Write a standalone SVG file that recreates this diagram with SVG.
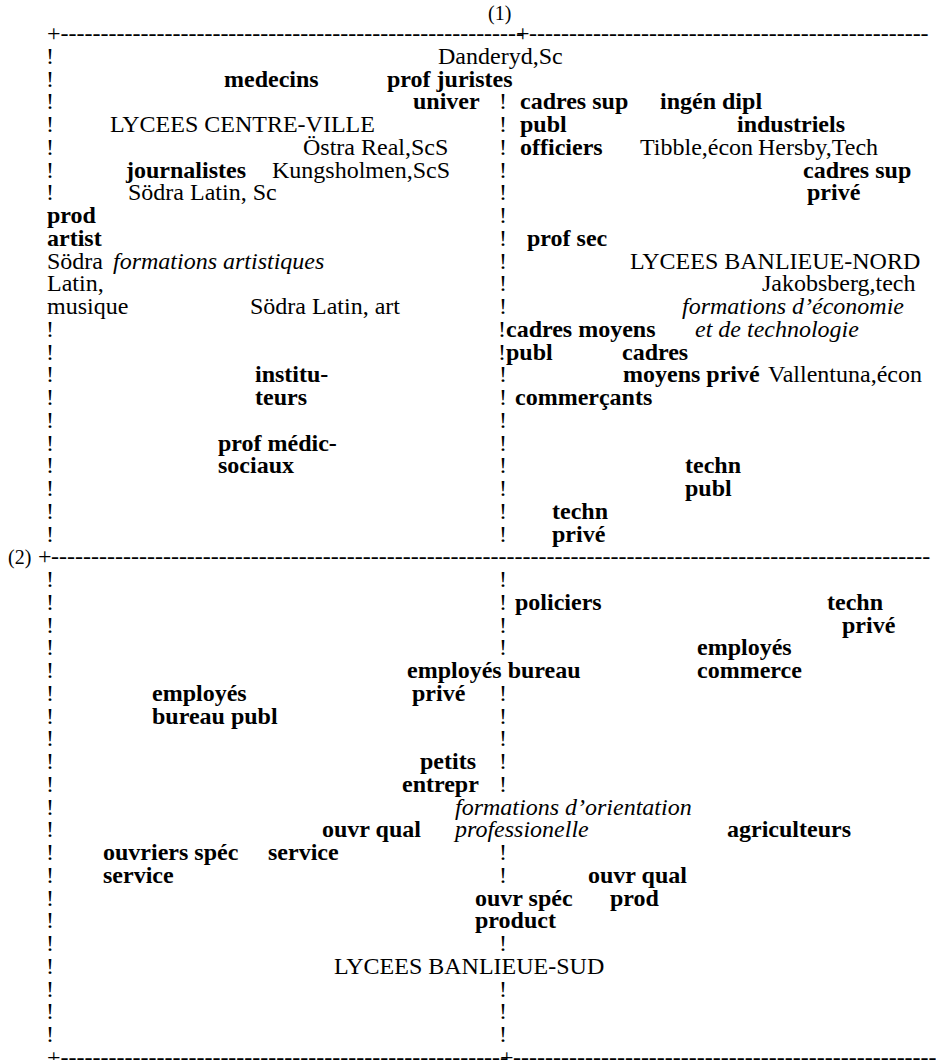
<svg xmlns="http://www.w3.org/2000/svg" width="936" height="1060" viewBox="0 0 936 1060" xml:space="preserve">
<style>
text{font-family:"Liberation Serif","Times New Roman",serif;font-size:24px;fill:#000}
.b{font-weight:bold}
.i{font-style:italic}
.s{font-size:20px}
</style>
<rect width="936" height="1060" fill="#fff"/>
<g id="frame">
<text class="s" x="488" y="20">(1)</text>
<text x="47" y="41">+----------------------------------------------------------<tspan x="516">+</tspan><tspan x="529">--------------------------------------------------</tspan></text>
<text x="8" y="564.25"><tspan class="s">(2)</tspan><tspan x="38">+</tspan><tspan x="51">--------------------------------------------------------------------------------------------------------------</tspan></text>
<text x="47" y="1064.75">+--------------------------------------------------------<tspan x="500">+</tspan><tspan x="513">-----------------------------------------------------</tspan></text>
</g>
<g id="axis-left">
<text x="46" y="63.75">!</text><text x="46" y="86.5">!</text><text x="46" y="109.25">!</text><text x="46" y="132">!</text><text x="46" y="154.75">!</text><text x="46" y="177.5">!</text><text x="46" y="200.25">!</text>
<text x="46" y="336.75">!</text><text x="46" y="359.5">!</text><text x="46" y="382.25">!</text><text x="46" y="405">!</text><text x="46" y="427.75">!</text><text x="46" y="450.5">!</text><text x="46" y="473.25">!</text><text x="46" y="496">!</text><text x="46" y="518.75">!</text><text x="46" y="541.5">!</text>
<text x="46" y="587">!</text><text x="46" y="609.75">!</text><text x="46" y="632.5">!</text><text x="46" y="655.25">!</text><text x="46" y="678">!</text><text x="46" y="700.75">!</text><text x="46" y="723.5">!</text><text x="46" y="746.25">!</text><text x="46" y="769">!</text><text x="46" y="791.75">!</text><text x="46" y="814.5">!</text><text x="46" y="837.25">!</text><text x="46" y="860">!</text><text x="46" y="882.75">!</text><text x="46" y="905.5">!</text><text x="46" y="928.25">!</text><text x="46" y="951">!</text><text x="46" y="973.75">!</text><text x="46" y="996.5">!</text><text x="46" y="1019.25">!</text><text x="46" y="1042">!</text>
</g>
<g id="axis-middle">
<text x="499" y="109.25">!</text><text x="499" y="132">!</text><text x="499" y="154.75">!</text><text x="499" y="177.5">!</text><text x="499" y="200.25">!</text><text x="499" y="223">!</text><text x="499" y="245.75">!</text><text x="499" y="268.5">!</text><text x="499" y="291.25">!</text><text x="499" y="314">!</text><text x="498" y="336.75">!</text><text x="498" y="359.5">!</text><text x="499" y="382.25">!</text><text x="499" y="405">!</text><text x="499" y="427.75">!</text><text x="499" y="450.5">!</text><text x="499" y="473.25">!</text><text x="499" y="496">!</text><text x="499" y="518.75">!</text><text x="499" y="541.5">!</text>
<text x="499" y="587">!</text><text x="499" y="609.75">!</text><text x="499" y="632.5">!</text><text x="499" y="655.25">!</text><text x="499" y="700.75">!</text><text x="499" y="723.5">!</text><text x="499" y="746.25">!</text><text x="499" y="769">!</text><text x="499" y="791.75">!</text><text x="499" y="860">!</text><text x="499" y="882.75">!</text><text x="499" y="951">!</text><text x="499" y="996.5">!</text><text x="499" y="1019.25">!</text><text x="499" y="1042">!</text>
</g>
<g id="quadrant-top-left">
<text x="438" y="63.75">Danderyd,Sc</text>
<text class="b" x="224" y="86.5">medecins</text>
<text class="b" x="387" y="86.5">prof  juristes</text>
<text class="b" x="413" y="109.25">univer</text>
<text x="110" y="132">LYCEES CENTRE-VILLE</text>
<text x="303" y="154.75">Östra Real,ScS</text>
<text class="b" x="126" y="177.5">journalistes</text>
<text x="272" y="177.5">Kungsholmen,ScS</text>
<text x="128" y="200.25">Södra Latin, Sc</text>
<text class="b" x="47" y="223">prod</text>
<text class="b" x="47" y="245.75">artist</text>
<text x="47" y="268.5">Södra</text>
<text class="i" x="113" y="268.5">formations artistiques</text>
<text x="47" y="291.25">Latin,</text>
<text x="47" y="314">musique</text>
<text x="250" y="314">Södra Latin, art</text>
<text class="b" x="255" y="382.25">institu-</text>
<text class="b" x="255" y="405">teurs</text>
<text class="b" x="218" y="450.5">prof médic-</text>
<text class="b" x="218" y="473.25">sociaux</text>
</g>
<g id="quadrant-top-right">
<text class="b" x="520" y="109.25">cadres sup</text>
<text class="b" x="660" y="109.25">ingén dipl</text>
<text class="b" x="520" y="132">publ</text>
<text class="b" x="737" y="132">industriels</text>
<text class="b" x="520" y="154.75">officiers</text>
<text x="640" y="154.75">Tibble,écon</text>
<text x="758" y="154.75">Hersby,Tech</text>
<text class="b" x="803" y="177.5">cadres sup</text>
<text class="b" x="807" y="200.25">privé</text>
<text class="b" x="527" y="245.75">prof sec</text>
<text x="630" y="268.5">LYCEES BANLIEUE-NORD</text>
<text x="762" y="291.25">Jakobsberg,tech</text>
<text class="i" x="682" y="314">formations d’économie</text>
<text class="b" x="506" y="336.75">cadres moyens</text>
<text class="i" x="695" y="336.75">et de technologie</text>
<text class="b" x="506" y="359.5">publ</text>
<text class="b" x="622" y="359.5">cadres</text>
<text class="b" x="623" y="382.25">moyens privé</text>
<text x="768" y="382.25">Vallentuna,écon</text>
<text class="b" x="515" y="405">commerçants</text>
<text class="b" x="685" y="473.25">techn</text>
<text class="b" x="685" y="496">publ</text>
<text class="b" x="552" y="518.75">techn</text>
<text class="b" x="552" y="541.5">privé</text>
</g>
<g id="quadrant-bottom-right">
<text class="b" x="515" y="609.75">policiers</text>
<text class="b" x="827" y="609.75">techn</text>
<text class="b" x="842" y="632.5">privé</text>
<text class="b" x="697" y="655.25">employés</text>
<text class="b" x="697" y="678">commerce</text>
<text class="b" x="727" y="837.25">agriculteurs</text>
<text class="b" x="588" y="882.75">ouvr qual</text>
<text class="b" x="475" y="905.5">ouvr spéc</text>
<text class="b" x="610" y="905.5">prod</text>
<text class="b" x="475" y="928.25">product</text>
</g>
<g id="quadrant-bottom-left">
<text class="b" x="407" y="678">employés bureau</text>
<text class="b" x="152" y="700.75">employés</text>
<text class="b" x="412" y="700.75">privé</text>
<text class="b" x="152" y="723.5">bureau publ</text>
<text class="b" x="420" y="769">petits</text>
<text class="b" x="402" y="791.75">entrepr</text>
<text class="i" x="455" y="814.5">formations d’orientation</text>
<text class="b" x="322" y="837.25">ouvr qual</text>
<text class="i" x="455" y="837.25">professionelle</text>
<text class="b" x="103" y="860">ouvriers spéc</text>
<text class="b" x="268" y="860">service</text>
<text class="b" x="103" y="882.75">service</text>
<text x="334" y="973.75">LYCEES BANLIEUE-SUD</text>
</g>
</svg>
